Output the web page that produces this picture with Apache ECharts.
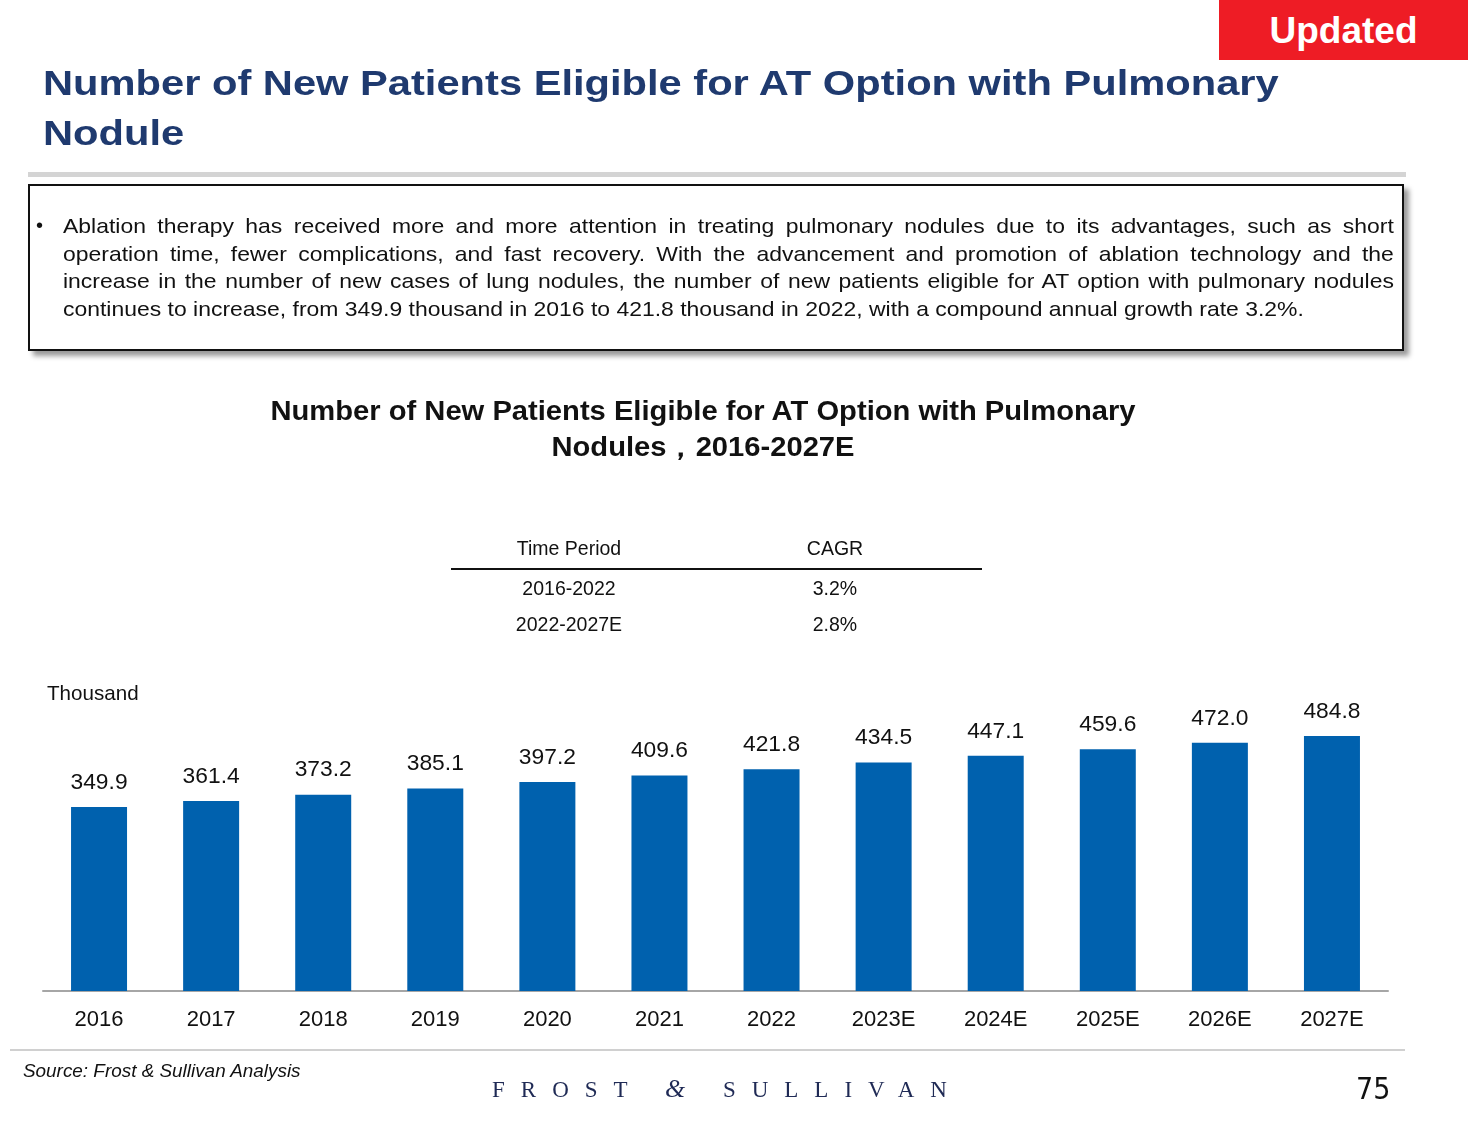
<!DOCTYPE html>
<html>
<head>
<meta charset="utf-8">
<script src="https://cdn.jsdelivr.net/npm/echarts@6/dist/echarts.min.js"></script>
<style>
  html, body { margin:0; padding:0; background:#fff; width:1468px; height:1125px; overflow:hidden; font-family:"Liberation Sans", Arial, sans-serif; }
  #chart { position:absolute; left:0; top:0; width:1468px; height:1125px; }
  .abs { position:absolute; }
  #updated { left:1219px; top:0; width:249px; height:60px; background:#ee1c25; color:#fff; font-weight:bold; font-size:37px; text-align:center; line-height:62px; }
  #title { left:43px; top:58px; width:1100px; color:#1f3a6f; font-weight:bold; font-size:35px; line-height:50px; transform:scaleX(1.19); transform-origin:0 0; white-space:nowrap; }
  #rule { left:28px; top:172px; width:1378px; height:5px; background:#d4d4d4; }
  #box { left:28px; top:184px; width:1372px; height:163px; border:2px solid #111; box-shadow:5px 5px 5px #9a9a9a; box-sizing:content-box; }
  #para { left:63px; top:213px; width:1183px; font-size:20.4px; line-height:27.5px; color:#111; transform:scaleX(1.125); transform-origin:0 0; }
  #para .ln { display:block; white-space:nowrap; text-align:justify; text-align-last:justify; }
  #para .ln.last { text-align:left; text-align-last:left; }
  #bullet { left:36px; top:212px; font-size:20px; line-height:27.5px; color:#111; }
  #ctitle { left:703px; top:393px; width:940px; margin-left:-470px; text-align:center; font-weight:bold; font-size:27px; line-height:36px; color:#111; transform:scaleX(1.08); transform-origin:50% 0; white-space:nowrap; }
  #tbl { left:451px; top:537px; width:531px; font-size:19.5px; color:#111; }
  .row { position:relative; height:36px; }
  .c1 { position:absolute; left:0; width:236px; text-align:center; }
  .c2 { position:absolute; left:300px; width:168px; text-align:center; }
  #tline { left:451px; top:568px; width:531px; height:2px; background:#111; }
  #thousand { left:47px; top:681px; font-size:20.6px; color:#111; }
  #frule { left:10px; top:1049px; width:1395px; height:2px; background:#d0d0d0; }
  #source { left:23px; top:1060px; font-style:italic; font-size:18.9px; color:#111; }
  #fs { left:492px; top:1074px; font-family:"Liberation Serif","DejaVu Serif",serif; font-size:23px; letter-spacing:16px; color:#1f2a55; white-space:nowrap; }
  #fs i { font-size:26px; }
  #page { left:1356px; top:1071px; font-size:30px; color:#111; font-family:"DejaVu Sans Condensed","Liberation Sans Narrow","Liberation Sans",sans-serif; }
</style>
</head>
<body>
<div id="chart"></div>
<div id="updated" class="abs">Updated</div>
<div id="title" class="abs">Number of New Patients Eligible for AT Option with Pulmonary<br>Nodule</div>
<div id="rule" class="abs"></div>
<div id="box" class="abs"></div>
<div id="bullet" class="abs">•</div>
<div id="para" class="abs"><span class="ln">Ablation therapy has received more and more attention in treating pulmonary nodules due to its advantages, such as short</span><span class="ln">operation time, fewer complications, and fast recovery. With the advancement and promotion of ablation technology and the</span><span class="ln">increase in the number of new cases of lung nodules, the number of new patients eligible for AT option with pulmonary nodules</span><span class="ln last">continues to increase, from 349.9 thousand in 2016 to 421.8 thousand in 2022, with a compound annual growth rate 3.2%.</span></div>
<div id="ctitle" class="abs">Number of New Patients Eligible for AT Option with Pulmonary<br>Nodules，2016-2027E</div>
<div id="tbl" class="abs"></div>
<div id="tline" class="abs"></div>
<div id="thousand" class="abs">Thousand</div>
<div id="frule" class="abs"></div>
<div id="source" class="abs">Source: Frost &amp; Sullivan Analysis</div>
<div id="fs" class="abs">FROST <i>&amp;</i> SULLIVAN</div>
<div id="page" class="abs">75</div>
<script>
const categories = ['2016','2017','2018','2019','2020','2021','2022','2023E','2024E','2025E','2026E','2027E'];
const values = [349.9, 361.4, 373.2, 385.1, 397.2, 409.6, 421.8, 434.5, 447.1, 459.6, 472.0, 484.8];
const tableHeader = ['Time Period', 'CAGR'];
const tablePeriods = ['2016-2022', '2022-2027E'];
const tableCagr = ['3.2%', '2.8%'];

const tbl = document.getElementById('tbl');
function addRow(a, b) {
  const r = document.createElement('div'); r.className = 'row';
  const c1 = document.createElement('div'); c1.className = 'c1'; c1.textContent = a;
  const c2 = document.createElement('div'); c2.className = 'c2'; c2.textContent = b;
  r.appendChild(c1); r.appendChild(c2); tbl.appendChild(r);
}
addRow(tableHeader[0], tableHeader[1]);
tablePeriods.forEach((p, i) => addRow(p, tableCagr[i]));
tbl.children[1].style.marginTop = '4px';

const chart = echarts.init(document.getElementById('chart'));
chart.setOption({
  animation: false,
  grid: { left: 43, right: 80, top: 675.4, bottom: 134, containLabel: false },
  xAxis: {
    type: 'category', data: categories,
    axisLine: { lineStyle: { color: '#a6a6a6', width: 2 } },
    axisTick: { show: false },
    axisLabel: { color: '#111', fontSize: 22, margin: 18, fontFamily: 'Liberation Sans, Arial, sans-serif' }
  },
  yAxis: { type: 'value', min: 0, max: 600, show: false, splitLine: { show: false } },
  series: [{
    type: 'bar', data: values, barWidth: 56,
    itemStyle: { color: '#0061ae' },
    label: { show: true, position: 'top', distance: 13, color: '#111', fontSize: 22.8, fontFamily: 'Liberation Sans, Arial, sans-serif', formatter: p => p.value.toFixed(1) }
  }]
});
</script>
</body>
</html>
